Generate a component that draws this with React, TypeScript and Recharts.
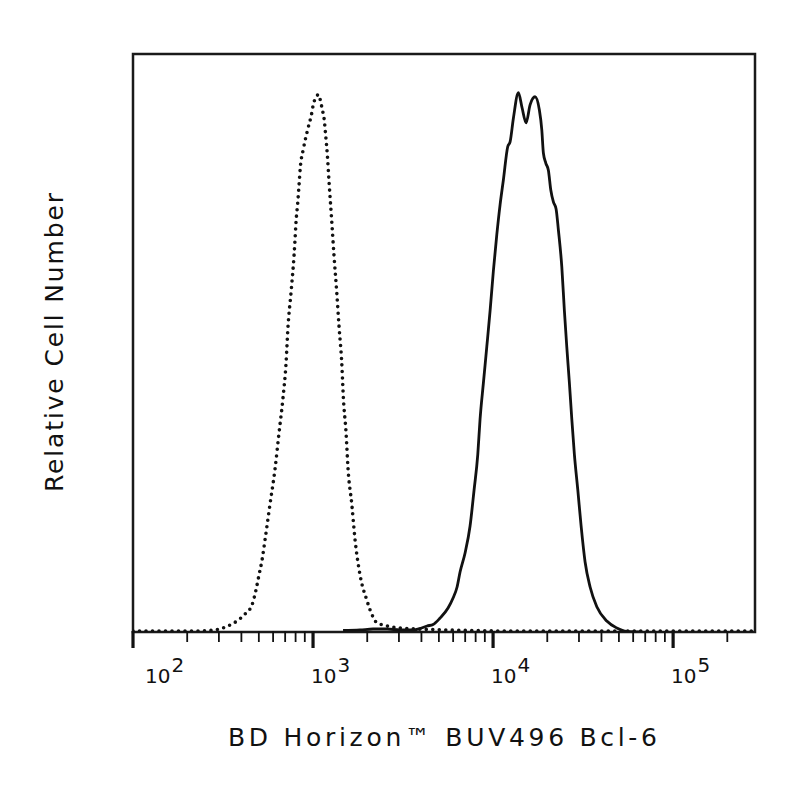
import React from 'react';
import { LineChart, Line, XAxis, YAxis, ReferenceArea } from 'recharts';

// Fluorescence intensity axis (log) and relative count axis
const X_MIN = 100;
const X_MAX = 285000;
const Y_MAX = 100;

// Isotype control (dotted)
const isotypeX = [100, 160, 236, 268, 304, 337, 378, 419, 458, 482, 501, 521, 541, 577, 615, 647, 681, 708, 726, 755, 784, 794, 805, 822, 836, 850, 884, 930, 984, 1004, 1049, 1066, 1094, 1127, 1151, 1177, 1201, 1227, 1270, 1308, 1354, 1395, 1444, 1474, 1526, 1565, 1641, 1712, 1824, 1988, 2154, 2239, 2577, 3043, 4467, 7451, 12430, 39300, 285000];
const isotypeY = [0.17, 0.17, 0.17, 0.26, 0.52, 1.04, 1.9, 3.11, 4.67, 7.27, 9.86, 12.46, 15.92, 22.15, 28.2, 34.4, 40.5, 46.5, 52.8, 58.8, 65.05, 67.8, 71.1, 74.2, 77.3, 80.4, 83.6, 86.7, 89.8, 91.3, 92.6, 93.0, 92.2, 90.3, 88.9, 85.7, 82.5, 77.9, 71.1, 65.05, 58.8, 52.8, 46.5, 40.5, 34.4, 28.2, 22.15, 15.92, 9.86, 5.54, 2.6, 1.73, 1.04, 0.69, 0.43, 0.26, 0.17, 0.17, 0.17];

// Bcl-6 stained (solid)
const bcl6X = [1468, 1824, 2154, 2577, 3043, 3594, 3930, 4299, 4642, 5077, 5623, 5995, 6310, 6556, 6990, 7451, 7843, 8222, 8468, 8835, 9226, 9624, 10040, 10485, 10936, 11408, 12068, 12430, 12967, 13822, 14490, 15253, 16052, 17113, 18080, 18650, 19030, 19623, 20285, 20920, 21630, 22387, 23057, 24082, 24900, 25672, 26542, 27367, 28295, 29554, 30828, 32442, 34589, 37687, 42827, 48670, 55320, 65570];
const bcl6Y = [0.26, 0.35, 0.52, 0.52, 0.35, 0.35, 0.61, 1.04, 1.3, 2.42, 4.15, 5.88, 7.79, 10.38, 13.67, 18.34, 24.57, 30.69, 36.85, 43.08, 49.31, 55.54, 62.5, 68.7, 73.9, 78.2, 84.0, 84.8, 88.9, 93.3, 90.7, 88.1, 91.2, 92.6, 90.3, 86.85, 82.87, 81.14, 79.9, 76.47, 74.4, 73.2, 69.55, 63.2, 55.54, 49.31, 43.08, 36.85, 30.69, 24.57, 18.34, 12.1, 7.79, 4.38, 1.9, 0.69, 0.09, 0];

const majorTicks = [100, 1000, 10000, 100000];
const minorTicks = [200, 300, 400, 500, 600, 700, 800, 900, 2000, 3000, 4000, 5000, 6000, 7000, 8000, 9000, 20000, 30000, 40000, 50000, 60000, 70000, 80000, 90000, 200000];

const xTitle = 'BD Horizon\u2122 BUV496 Bcl-6';
const yTitle = 'Relative Cell Number';

const isotypeData = isotypeX.map((x, i) => ({ x, count: isotypeY[i] }));
const bcl6Data = bcl6X.map((x, i) => ({ x, count: bcl6Y[i] }));
const allTicks = [...majorTicks, ...minorTicks].sort((a, b) => a - b);

const FONT = '"DejaVu Sans", "Liberation Sans", Arial, sans-serif';
const INK = '#111';

const LogTick = (props: any) => {
  const { x, y, payload } = props;
  const v = payload.value as number;
  const lg = Math.log10(v);
  const e = Math.round(lg);
  const major = Math.abs(lg - e) < 1e-9;
  return (
    <g>
      <line x1={x} x2={x} y1={y - 1} y2={y + (major ? 16 : 10)} stroke={INK} strokeWidth={major ? 3.2 : 1.8} />
      {major && (
        <text x={x + (v === X_MIN ? 12 : -2)} y={y + 51} fontFamily={FONT} fontSize={20} fill={INK} textAnchor="start">
          10<tspan dy={-11} dx={1}>{e}</tspan>
        </text>
      )}
    </g>
  );
};

const Titles = () => (
  <g>
    <text x={434.5} y={738} fontFamily={FONT} fontSize={25} fill={INK} textAnchor="middle" textLength={429} lengthAdjust="spacing">
      {xTitle}
    </text>
    <text x={55} y={334.5} transform="rotate(-90 55 334.5)" fontFamily={FONT} fontSize={25} fill={INK} textAnchor="middle" textLength={299} lengthAdjust="spacing">
      {yTitle}
    </text>
  </g>
);

export default function App() {
  return (
    <div style={{ width: 784, height: 784, background: '#fff' }}>
      <LineChart width={784} height={784} margin={{ top: 46, right: 37, left: 125, bottom: 100 }}>
        <XAxis
          dataKey="x"
          type="number"
          scale="log"
          domain={[X_MIN, X_MAX]}
          allowDataOverflow
          ticks={allTicks}
          interval={0}
          tick={<LogTick />}
          tickLine={false}
          tickSize={0}
          tickMargin={0}
          axisLine={false}
          height={60}
          label={<Titles />}
        />
        <YAxis type="number" domain={[0, Y_MAX]} allowDataOverflow hide />
        <Line
          data={isotypeData}
          dataKey="count"
          type="monotone"
          stroke={INK}
          strokeWidth={3.6}
          strokeDasharray="0 6.5"
          strokeLinecap="round"
          dot={false}
          activeDot={false}
          isAnimationActive={false}
        />
        <Line
          data={bcl6Data}
          dataKey="count"
          type="monotone"
          stroke={INK}
          strokeWidth={2.8}
          dot={false}
          activeDot={false}
          isAnimationActive={false}
        />
        <ReferenceArea x1={X_MIN} x2={X_MAX} y1={0} y2={Y_MAX} fill="none" stroke="#1a1a1a" strokeWidth={2.5} ifOverflow="visible" />
      </LineChart>
    </div>
  );
}
